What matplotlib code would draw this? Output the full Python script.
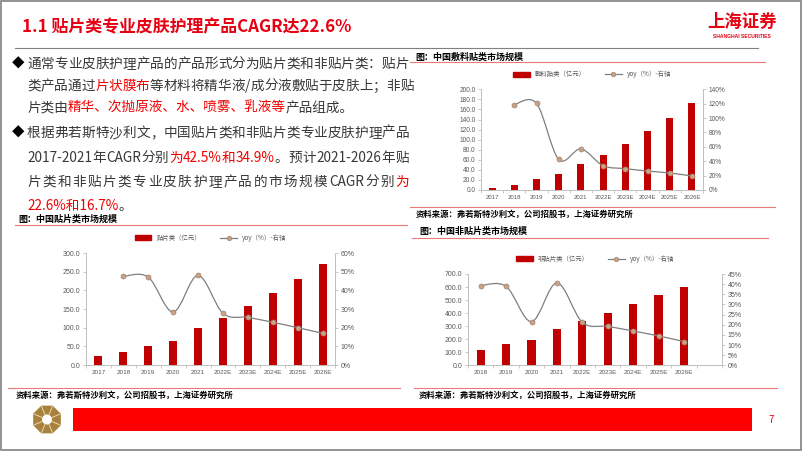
import re
import numpy as np
import matplotlib
matplotlib.use('Agg')
import matplotlib.pyplot as plt
from matplotlib.path import Path
from matplotlib.patches import PathPatch, Rectangle, RegularPolygon, Circle
from matplotlib.lines import Line2D

plt.rcParams['font.family'] = ['Noto Sans CJK SC', 'DejaVu Sans']

# ---- data ----
years_a = ['2017', '2018', '2019', '2020', '2021', '2022E', '2023E', '2024E', '2025E', '2026E']
years_b = ['2018', '2019', '2020', '2021', '2022E', '2023E', '2024E', '2025E', '2026E']

dressing = [4.6, 9.9, 22.5, 32.5, 51.7, 69.5, 90.7, 116.6, 143.0, 172.2]
dressing_yoy = [None, 118.7, 120.5, 42.6, 57.0, 33.8, 29.7, 26.4, 23.6, 19.5]

patch = [24.1, 34.8, 50.9, 65.2, 98.2, 125.9, 157.0, 192.0, 231.0, 271.0]
patch_yoy = [None, 47.5, 47.1, 28.4, 48.0, 27.7, 25.5, 22.9, 20.0, 17.0]

nonpatch = [115.0, 163.5, 196.7, 276.0, 340.0, 403.0, 470.0, 539.0, 598.0]
nonpatch_yoy = [39.3, 38.9, 21.5, 40.6, 21.2, 19.2, 16.9, 14.5, 11.7]

W, H = 802, 451
RED = '#E60012'
BAR = '#C00000'
TXT = '#383838'
GRAY = '#595959'
PINK = '#E8787C'

fig = plt.figure(figsize=(W / 100, H / 100), dpi=100)
fig.patch.set_facecolor('white')

# overlay in pixel coordinates for slide decoration
bg = fig.add_axes([0, 0, 1, 1], zorder=-1)
bg.set_xlim(0, W)
bg.set_ylim(H, 0)
bg.axis('off')


def smooth_path(xs, ys):
    # excel-like smoothed line, bezier through the points
    pts = np.column_stack([xs, ys]).astype(float)
    n = len(pts)
    verts = [pts[0]]
    codes = [Path.MOVETO]
    for i in range(n - 1):
        p0 = pts[max(i - 1, 0)]
        p1 = pts[i]
        p2 = pts[i + 1]
        p3 = pts[min(i + 2, n - 1)]
        verts += [p1 + (p2 - p0) / 6, p2 - (p3 - p1) / 6, p2]
        codes += [Path.CURVE4] * 3
    return Path(verts, codes)


def chart(box, cats, bars, yoy, nslots, ymax, ystep, rmax, rstep, label, fs=5.0, leg_y=15):
    x0, y0, x1, y1 = box
    ax = fig.add_axes([x0 / W, 1 - y1 / H, (x1 - x0) / W, (y1 - y0) / H])
    ax.set_facecolor('none')
    x = np.arange(len(cats))
    ax.bar(x, bars, width=0.32, color=BAR, zorder=2)
    ax.set_xlim(-0.5, nslots - 0.5)
    ax.set_ylim(0, ymax)
    ax.set_yticks(np.arange(0, ymax + ystep / 2, ystep))
    ax.yaxis.set_major_formatter('{x:.1f}')
    ax.set_xticks(x)
    ax.set_xticklabels(cats)
    ax.set_xticks(np.arange(-0.5, nslots), minor=True)
    ax.spines['top'].set_visible(False)
    for s in ['left', 'bottom', 'right']:
        ax.spines[s].set_color('#BFBFBF')
        ax.spines[s].set_linewidth(0.6)
    ax.tick_params(axis='x', which='major', length=0, pad=3.5, labelsize=fs - 0.4, colors=GRAY)
    ax.tick_params(axis='x', which='minor', length=2, color='#BFBFBF', width=0.6)
    ax.tick_params(axis='y', length=2, color='#BFBFBF', width=0.6, pad=2, labelsize=fs, colors=GRAY)
    for t in ax.get_xticklabels() + ax.get_yticklabels():
        t.set_fontfamily('Liberation Sans')

    ax2 = ax.twinx()
    ax2.set_ylim(0, rmax)
    ax2.set_yticks(np.arange(0, rmax + rstep / 2, rstep))
    ax2.yaxis.set_major_formatter(lambda v, p: '{:.0f}%'.format(v))
    ax2.spines['top'].set_visible(False)
    for s in ['left', 'bottom', 'right']:
        ax2.spines[s].set_color('#BFBFBF')
        ax2.spines[s].set_linewidth(0.6)
    ax2.tick_params(axis='y', length=2, color='#BFBFBF', width=0.6, pad=2, labelsize=fs, colors=GRAY)
    for t in ax2.get_yticklabels():
        t.set_fontfamily('Liberation Sans')

    xs = [i for i, v in enumerate(yoy) if v is not None]
    ys = [v for v in yoy if v is not None]
    ax2.add_patch(PathPatch(smooth_path(xs, ys), fill=False, edgecolor='#7F7F7F', lw=0.9, zorder=3))
    ax2.plot(xs, ys, 'o', ms=3.6, mfc='#C9A286', mec='#A08672', mew=0.5, zorder=4)

    h_bar = Rectangle((0, 0), 1, 1, color=BAR)
    h_line = Line2D([], [], color='#7F7F7F', lw=0.9, marker='o', ms=3.2, mfc='#C9A286', mec='#A08672', mew=0.5)
    fig.legend([h_bar, h_line], [label, 'yoy（%）-右轴'], loc='center',
               bbox_to_anchor=((x0 + x1) / 2 / W, 1 - (y0 - leg_y) / H), ncol=2, frameon=False,
               fontsize=4.6, labelcolor=GRAY, handlelength=2.6, handleheight=0.8,
               columnspacing=3.0, handletextpad=0.8)
    return ax, ax2


# ---- charts ----
chart((481, 89.3, 703, 190), years_a, dressing, dressing_yoy, 10, 200, 20, 140, 20,
      '敷料贴类（亿元）', fs=4.7)
chart((86, 253, 335, 365), years_a, patch, patch_yoy, 10, 300, 50, 60, 10,
      '贴片类（亿元）')
chart((468, 274, 722, 365.3), years_b, nonpatch, nonpatch_yoy, 10, 700, 100, 45, 5,
      '非贴片类（亿元）')

# ---- slide decoration ----
bg.add_patch(Rectangle((1, 1), W - 2.5, H - 2.5, fill=False, edgecolor='#808080', lw=1.2))
bg.text(22, 27, '1.1 贴片类专业皮肤护理产品CAGR达22.6%', color=RED, fontsize=12.2,
        fontweight='bold', va='center', ha='left')
bg.plot([15, 758], [47.5, 47.5], color='#808080', lw=0.8)
bg.text(742, 22, '上海证券', color=RED, fontsize=12.5, fontweight='bold', va='center', ha='center')
bg.text(742, 37, 'SHANGHAI SECURITIES', color=RED, fontsize=3.6, fontweight='bold',
        va='center', ha='center', family='Liberation Sans')

# captions, rules and sources
src = '资料来源：弗若斯特沙利文，公司招股书，上海证券研究所'
bg.text(415, 57, '图：中国敷料贴类市场规模', fontsize=6.5, fontweight='bold', color='black', va='center')
bg.plot([410, 765], [62, 62], color=PINK, lw=0.8)
bg.plot([410, 775], [207, 207], color=PINK, lw=0.8)
bg.text(416, 214, src, fontsize=6, fontweight='bold', color='black', va='center')

bg.text(18, 219, '图：中国贴片类市场规模', fontsize=6.5, fontweight='bold', color='black', va='center')
bg.plot([15, 407], [224.5, 224.5], color=PINK, lw=0.8)
bg.plot([8, 400], [387.5, 387.5], color=PINK, lw=0.8)
bg.text(16, 395, src, fontsize=6, fontweight='bold', color='black', va='center')

bg.text(419, 231.5, '图：中国非贴片类市场规模', fontsize=6.5, fontweight='bold', color='black', va='center')
bg.plot([412, 768], [237.5, 237.5], color=PINK, lw=0.8)
bg.plot([414, 777], [387.5, 387.5], color=PINK, lw=0.8)
bg.text(419, 395, src, fontsize=6, fontweight='bold', color='black', va='center')

# footer
bg.add_patch(Rectangle((73, 408), 679, 23, color='#FF0000', lw=0))
bg.text(771, 420, '7', color=RED, fontsize=7, va='center', ha='center')
bg.add_patch(RegularPolygon((47, 419.5), 8, radius=15, orientation=np.pi / 8, color='#A8823C', lw=0))
for a in np.arange(8) * np.pi / 4 + np.pi / 8:
    bg.plot([47 + 5 * np.cos(a), 47 + 14 * np.cos(a)], [419.5 + 5 * np.sin(a), 419.5 + 14 * np.sin(a)],
            color='#E8D7B0', lw=0.7)
bg.add_patch(Circle((47, 419.5), 5, color='white', lw=0))

# ---- body text with red highlights ----
fig.canvas.draw()
renderer = fig.canvas.get_renderer()
SIZE = 9.8


def rich_line(x, y, parts, right=None):
    # tokens: single CJK chars, latin runs kept together
    toks = []
    for s, c in parts:
        for m in re.finditer(r'[A-Za-z0-9.%/\-]+|.', s):
            toks.append((m.group(), c))
    if right is None:
        for s, c in parts:
            t = bg.text(x, y, s, color=c, fontsize=SIZE, fontweight='light', va='center', ha='left')
            x += t.get_window_extent(renderer).width
        return
    arts = []
    total = 0
    for s, c in toks:
        t = bg.text(0, y, s, color=c, fontsize=SIZE, fontweight='light', va='center', ha='left')
        w = t.get_window_extent(renderer).width
        arts.append((t, w))
        total += w
    gap = max(right - x - total, 0) / max(len(arts) - 1, 1)
    for t, w in arts:
        t.set_x(x)
        x += w + gap


K, R = TXT, '#F00000'
RIGHT = 409
bg.text(12, 64, '◆', fontsize=9, color='black', va='center')
rich_line(27, 64, [('通常专业皮肤护理产品的产品形式分为贴片类和非贴片类：贴片', K)], RIGHT)
rich_line(27, 86, [('类产品通过', K), ('片状膜布', R), ('等材料将精华液/成分液敷贴于皮肤上；非贴', K)], RIGHT)
rich_line(27, 108, [('片类由', K), ('精华、次抛原液、水、喷雾、乳液等', R), ('产品组成。', K)])

bg.text(12, 133, '◆', fontsize=9, color='black', va='center')
rich_line(27, 133, [('根据弗若斯特沙利文，中国贴片类和非贴片类专业皮肤护理产品', K)], RIGHT)
rich_line(27, 158, [('2017-2021年CAGR分别', K), ('为42.5%和34.9%', R), ('。预计2021-2026年贴', K)], RIGHT)
rich_line(27, 182, [('片类和非贴片类专业皮肤护理产品的市场规模CAGR分别', K), ('为', R)], RIGHT)
rich_line(27, 206, [('22.6%和16.7%', R), ('。', K)])

fig.savefig('out.png', dpi=100)
